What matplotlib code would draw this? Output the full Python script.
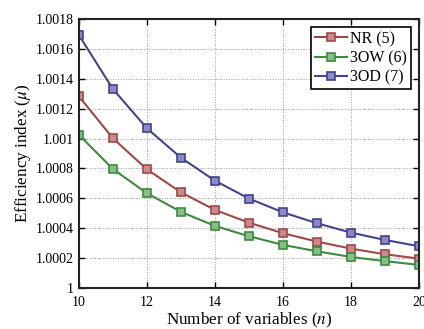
import numpy as np
import matplotlib.pyplot as plt

plt.rcParams["font.family"] = ["Liberation Serif", "DejaVu Serif"]
plt.rcParams["mathtext.fontset"] = "stix"

n = np.arange(10, 21)
nr = [1.001283, 1.001002, 1.000794, 1.000640, 1.000522, 1.000437,
      1.000366, 1.000310, 1.000263, 1.000225, 1.000196]
ow3 = [1.001026, 1.000796, 1.000634, 1.000509, 1.000415, 1.000346,
       1.000288, 1.000245, 1.000207, 1.000179, 1.000154]
od3 = [1.001693, 1.001332, 1.001069, 1.000872, 1.000718, 1.000598,
       1.000506, 1.000433, 1.000370, 1.000321, 1.000279]
yticks = [1, 1.0002, 1.0004, 1.0006, 1.0008, 1.001, 1.0012, 1.0014, 1.0016, 1.0018]
ylabels = ["1", "1.0002", "1.0004", "1.0006", "1.0008", "1.001", "1.0012",
           "1.0014", "1.0016", "1.0018"]

fig = plt.figure(figsize=(4.24, 3.29), dpi=100)
ax = fig.add_axes([0.186, 0.125, 0.802, 0.817])

series = [(nr, "NR (5)", "#a04848", "#c98a8a"),
          (ow3, "3OW (6)", "#3e8a3e", "#86c086"),
          (od3, "3OD (7)", "#43438e", "#8a8ac8")]
for y, lab, c, fc in series:
    ax.plot(n, y, "-s", color=c, mfc=fc, mec=c, ms=5.5, mew=1.2, lw=1.5, label=lab)

ax.set_xlim(10, 20)
ax.set_ylim(1, 1.0018)
ax.set_xticks([10, 12, 14, 16, 18, 20])
ax.set_yticks(yticks)
ax.set_yticklabels(ylabels)
ax.tick_params(direction="in", top=True, right=True, labelsize=10, length=4, width=1)
ax.tick_params(axis="x", pad=6)
for s in ax.spines.values():
    s.set_linewidth(1.5)
    s.set_color("#222222")
ax.grid(True, ls=":", color="#999999", lw=0.7)
ax.set_xlabel("Number of variables ($n$)", fontsize=12.3, labelpad=1)
ax.set_ylabel("Efficiency index ($\\mu$)", fontsize=12.3, labelpad=2)
leg = ax.legend(loc="upper right", fontsize=11.5, fancybox=False, framealpha=1,
                edgecolor="black", borderpad=0.25, handlelength=2.0,
                labelspacing=0.2, handletextpad=0.2, borderaxespad=0.5)
leg.get_frame().set_linewidth(1.2)

plt.savefig("out.png", dpi=100)
